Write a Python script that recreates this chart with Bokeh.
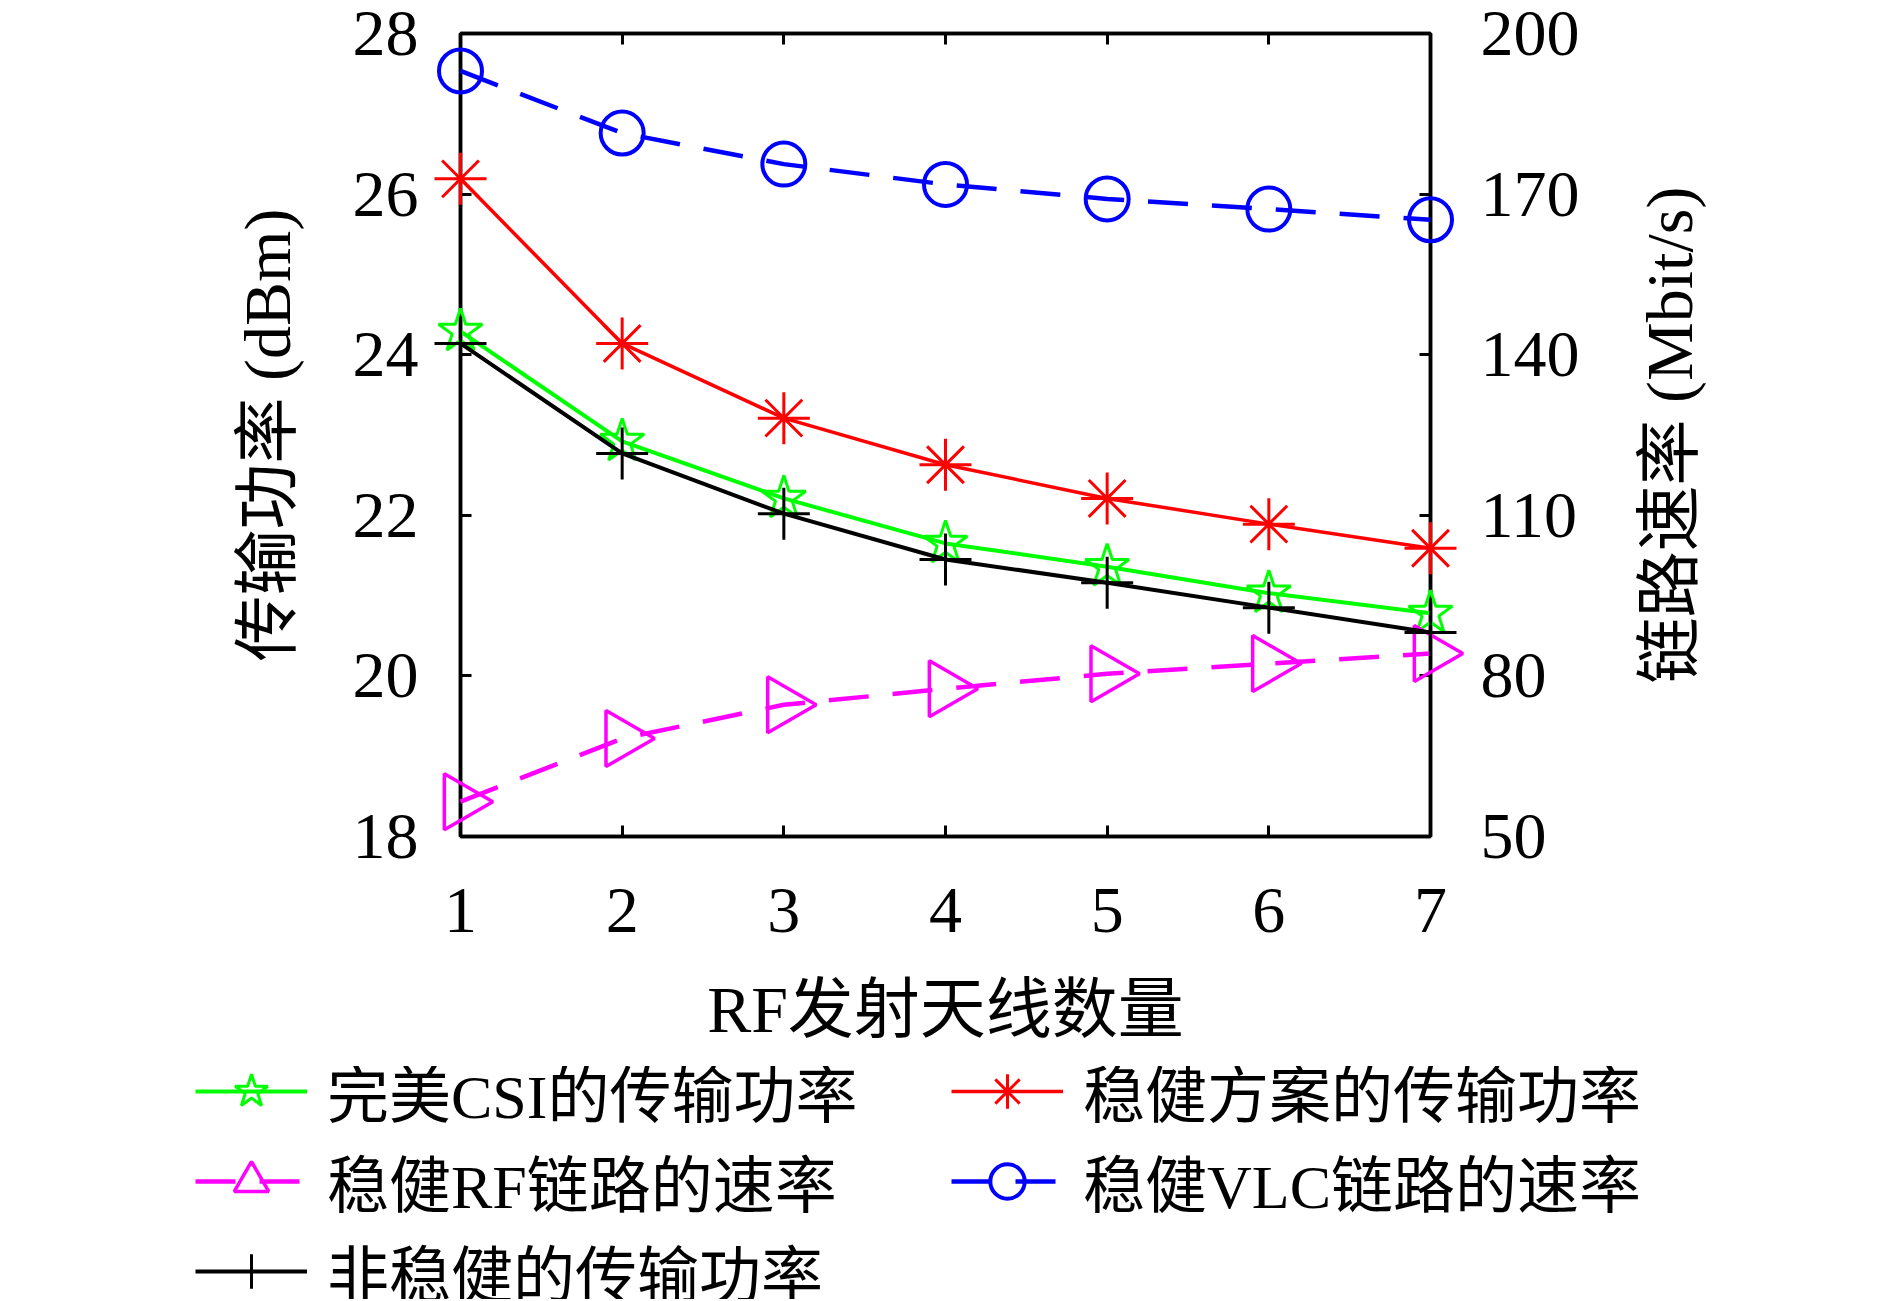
import math
from bokeh.plotting import figure
from bokeh.layouts import column, row
from bokeh.models import (Range1d, LinearAxis, FixedTicker, Legend, LegendItem)
from bokeh.embed import file_html
from bokeh.resources import INLINE

# ---- data ----
antennas = [1, 2, 3, 4, 5, 6, 7]
perfect_csi_power = [24.29, 22.92, 22.21, 21.65, 21.36, 21.03, 20.78]
robust_power = [26.19, 24.14, 23.21, 22.63, 22.21, 21.89, 21.59]
nonrobust_power = [24.14, 22.77, 22.02, 21.45, 21.16, 20.85, 20.54]
rf_rate = [56.5, 68.3, 74.6, 77.6, 80.4, 82.3, 84.2]
vlc_rate = [193.0, 181.4, 175.6, 171.8, 169.1, 167.2, 165.2]

x_ticks = [1, 2, 3, 4, 5, 6, 7]
left_ticks = [18, 20, 22, 24, 26, 28]
right_ticks = [50, 80, 110, 140, 170, 200]

labels = ["完美CSI的传输功率", "稳健方案的传输功率", "稳健RF链路的速率",
          "稳健VLC链路的速率", "非稳健的传输功率"]
x_label = "RF发射天线数量"
left_label = "传输功率 (dBm)"
right_label = "链路速率 (Mbit/s)"

FONT = "'Liberation Serif', 'Noto Sans CJK SC'"
FS = "66px"
LEG_FS = "62px"

GREEN, RED, MAGENTA, BLUE, BLACK = "#00ff00", "#ff0000", "#ff00ff", "#0000ff", "#000000"
DASH = "40 24"

TOP, FRAME_H, BOTTOM = 33, 803, 230
H1 = TOP + FRAME_H + BOTTOM

# ---------------- main chart ----------------
p = figure(frame_width=970, frame_height=FRAME_H,
           min_border_left=460, min_border_right=170,
           min_border_top=TOP, min_border_bottom=BOTTOM,
           x_range=Range1d(1, 7), y_range=Range1d(18, 28),
           output_backend="svg", toolbar_location=None,
           background_fill_color="white", border_fill_color="white")
p.extra_y_ranges = {"rate": Range1d(50, 200)}
p.grid.visible = False
p.outline_line_color = "black"
p.outline_line_width = 3.5


def style_axis(ax, ticks):
    ax.ticker = FixedTicker(ticks=ticks)
    ax.major_tick_in = 11
    ax.major_tick_out = 0
    ax.minor_tick_line_color = None
    ax.major_tick_line_width = 3
    ax.axis_line_width = 3.5
    ax.major_label_text_font = FONT
    ax.major_label_text_font_size = FS
    ax.major_label_text_color = "black"
    ax.axis_label_text_font = FONT
    ax.axis_label_text_font_size = FS
    ax.axis_label_text_font_style = "normal"
    ax.axis_label_text_color = "black"


xa = p.xaxis[0]
style_axis(xa, x_ticks)
xa.axis_label = x_label
xa.major_label_standoff = 52
xa.axis_label_standoff = 38

ya = p.yaxis[0]
style_axis(ya, left_ticks)
ya.axis_label = left_label
ya.major_label_standoff = 42
ya.axis_label_standoff = 46

ra = LinearAxis(y_range_name="rate")
style_axis(ra, right_ticks)
ra.major_label_standoff = 50
p.add_layout(ra, "right")

ta = LinearAxis()
style_axis(ta, x_ticks)
ta.major_label_overrides = {t: "" for t in x_ticks}
ta.major_label_standoff = 0
p.add_layout(ta, "above")


def add_series(fig, level="overlay", visible=True):
    kw = {"y_range_name": "rate"} if fig is p else {}
    rs = []
    rs.append((fig.line(antennas, perfect_csi_power, line_color=GREEN, line_width=4,
                        level=level, visible=visible),
               fig.scatter(antennas, perfect_csi_power, marker="star", size=46,
                           line_color=GREEN, line_width=3, fill_color=None,
                           level=level, visible=visible)))
    rs.append((fig.line(antennas, robust_power, line_color=RED, line_width=3.5,
                        level=level, visible=visible),
               fig.scatter(antennas, robust_power, marker="asterisk", size=52,
                           line_color=RED, line_width=3, level=level, visible=visible)))
    rs.append((fig.line(antennas, rf_rate, line_color=MAGENTA, line_width=4.5,
                        line_dash=DASH, level=level, visible=visible, **kw),
               fig.scatter(antennas, rf_rate, marker="triangle", size=56,
                           angle=-math.pi / 2, line_color=MAGENTA, line_width=3.5,
                           fill_color=None, level=level, visible=visible, **kw)))
    rs.append((fig.line(antennas, vlc_rate, line_color=BLUE, line_width=4.5,
                        line_dash=DASH, level=level, visible=visible, **kw),
               fig.scatter(antennas, vlc_rate, marker="circle", size=43,
                           line_color=BLUE, line_width=4, fill_color=None,
                           level=level, visible=visible, **kw)))
    rs.append((fig.line(antennas, nonrobust_power, line_color=BLACK, line_width=4,
                        level=level, visible=visible),
               fig.scatter(antennas, nonrobust_power, marker="cross", size=52,
                           line_color=BLACK, line_width=3, level=level, visible=visible)))
    return rs


add_series(p)

# ---------------- right-hand title (reads bottom to top, like a left axis) ----------------
p3 = figure(frame_width=154, frame_height=FRAME_H,
            min_border_left=120, min_border_right=0,
            min_border_top=TOP, min_border_bottom=BOTTOM,
            x_axis_type=None, x_range=Range1d(0, 1), y_range=Range1d(0, 1),
            output_backend="svg", toolbar_location=None)
p3.outline_line_color = None
p3.grid.visible = False
ay = p3.yaxis[0]
ay.ticker = FixedTicker(ticks=[])
ay.axis_line_color = None
ay.major_tick_line_color = None
ay.minor_tick_line_color = None
ay.major_tick_in = 0
ay.major_tick_out = 0
ay.major_label_standoff = 0
ay.axis_label = right_label
ay.axis_label_text_font = FONT
ay.axis_label_text_font_size = FS
ay.axis_label_text_font_style = "normal"
ay.axis_label_text_color = "black"
ay.axis_label_standoff = 15

# ---------------- legend panel ----------------
H2 = 233
p2 = figure(width=1874, height=H2, min_border=0, x_axis_type=None, y_axis_type=None,
            output_backend="svg", toolbar_location=None,
            x_range=Range1d(100, 101), y_range=Range1d(0, 1))
p2.outline_line_color = None
p2.grid.visible = False
leg_rs = add_series(p2, level="glyph", visible=False)

items = [LegendItem(label=lab, renderers=list(r)) for lab, r in zip(labels, leg_rs)]
legend = Legend(items=items, orientation="horizontal", ncols=2,
                location=(195, H2 - 250), padding=0, margin=0, spacing=0,
                glyph_width=112, glyph_height=86, label_standoff=20,
                label_width=624, label_height=76,
                label_text_font=FONT, label_text_font_size=LEG_FS,
                label_text_color="black", inactive_fill_alpha=0,
                border_line_alpha=0, background_fill_alpha=0)
p2.add_layout(legend, "center")

layout = column(row(p, p3, spacing=0), p2, spacing=0)
open("out.html", "w").write(file_html(layout, INLINE))
